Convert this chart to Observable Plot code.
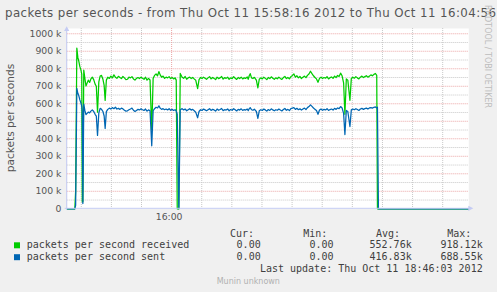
<!DOCTYPE html>
<html><head><meta charset="utf-8">
<script src="https://cdn.jsdelivr.net/npm/d3@7"></script>
<script src="https://cdn.jsdelivr.net/npm/@observablehq/plot@0.6"></script>
<style>
html,body{margin:0;padding:0;background:#f0f0f0;overflow:hidden;}
svg text{font-family:"DejaVu Sans",sans-serif;}
</style></head><body><div id="chart"></div>
<script>
// ---- data ----
const title = "packets per seconds - from Thu Oct 11 15:58:16 2012 to Thu Oct 11 16:04:56";
const yLabel = "packets per seconds";
const startTime = "2012-10-11T15:58:16Z";
const endTime = "2012-10-11T16:04:56Z";
// seconds after 15:58:16
const seconds = [0,7.6,8.4,9.6,10.6,11.6,12.6,13.6,14.5,15.0,15.6,16.5,17.6,18.7,19.8,21,22.3,23.6,25,26.4,27.8,29,30.2,31.5,32.8,34.2,35.6,36.8,37.8,39,40.4,42,43.5,45,46.5,48,49.5,51,52.5,54,55.5,57,58.5,60,61.5,63,64.5,66,67.5,69,70.5,72,73.5,75,76.5,78,79.5,81,82.5,84.2,85.6,87,88.5,90,91.3,92.6,94,95.5,97,98.5,100,101.5,103,104.5,106,107.5,108.6,109.6,111.2,112.6,114.5,116,117.5,119,120.5,122,123.5,125,126.5,128,129.9,131.3,132.8,134.3,135.8,137.3,138.8,140.3,141.8,143.3,144.8,146.3,147.8,149.3,150.8,152.3,153.8,155.3,156.8,158.3,159.8,161.3,162.8,164.3,165.8,167.3,168.8,170.3,171.8,173.3,174.8,176.3,177.8,179.3,180.3,181.3,182.3,183.6,185,186.4,188.4,189.9,191.3,192.8,194.3,195.8,197.3,198.8,200.3,201.8,203.3,204.8,206.3,207.8,209.3,210.8,212.3,213.8,215.3,216.8,218.3,219.8,221.3,222.8,224.3,225.8,227.3,228.8,230.3,231.8,233.3,234.8,236.3,237.8,239.3,240.8,242.3,243.8,245.3,246.8,248.3,249.8,251.3,252.8,254.3,255.8,257.3,258.8,260.3,261.8,263.3,264.8,266.3,267.8,269.3,270.8,272.3,273.8,275.3,276.6,278,279.5,281.6,283,284.5,286,287.5,289,290.5,292,293.5,295,296.5,298,299.5,301,302.5,304,305.5,307,308.3,309.0,310.0,400];
// thousands of packets per second
const received = [0,0,100,918.12,865,842,812,795,770,40,40,792,745,702,718,735,722,742,752,738,712,700,552,725,758,762,740,705,619,735,752,745,758,748,765,752,745,757,750,744,756,748,738,740,752,748,755,742,735,745,750,744,752,746,740,752,735,745,736,450,745,762,770,760,784,765,752,758,745,752,748,755,744,750,742,748,735,0,0,773,752,745,756,740,748,752,744,750,742,735,687,738,750,744,752,746,740,748,755,742,750,745,738,752,744,748,756,741,749,745,752,740,748,744,755,746,739,750,744,752,742,748,745,753,740,760,772,748,744,751,735,691,740,748,742,752,745,738,750,744,754,746,740,748,743,752,745,739,750,756,744,750,742,755,762,770,752,760,748,756,744,752,758,749,762,770,786,772,760,750,742,723,745,752,744,750,746,755,742,749,753,745,758,750,762,756,775,760,720,540,742,735,620,745,752,746,755,748,742,752,758,750,755,760,752,758,765,760,768,773,762,0,0,0];
const sent = [0,0,20,688.55,660,645,622,605,585,560,30,598,562,538,545,552,548,558,565,556,540,530,419,548,574,568,556,530,459,555,568,575,570,578,572,580,570,574,568,575,571,563,558,560,566,570,575,563,556,562,568,565,571,566,562,570,558,565,560,360,560,572,580,576,588,575,568,572,566,570,565,572,563,568,562,566,558,540,0,566,572,565,570,560,566,572,564,568,560,552,520,556,566,562,570,565,560,566,572,562,568,565,558,570,563,567,573,561,566,564,570,560,567,563,572,566,559,568,564,571,562,567,564,570,561,572,578,566,563,569,556,516,560,566,562,570,565,558,567,562,571,565,560,566,563,570,564,559,567,573,563,568,561,572,575,578,568,574,566,571,564,570,575,567,578,584,594,585,576,568,562,540,564,570,563,568,565,572,562,567,570,564,574,568,576,572,584,576,545,424,562,556,470,565,570,566,572,567,562,570,574,568,572,575,570,576,578,575,580,582,576,580,0,0];
const yTicks = [0,100,200,300,400,500,600,700,800,900,1000];
const yMinorTicks = [50,150,250,350,450,550,650,750,850,950];
const xMinorTicks = ["15:58:30","15:59:00","15:59:30","16:00:30","16:01:00","16:01:30","16:02:00","16:02:30","16:03:00","16:03:30","16:04:00","16:04:30"];
const xMajorTicks = ["16:00:00"];
const xTickLabels = ["16:00"];
const seriesNames = ["packets per second received","packets per second sent"];
const seriesColors = ["#00cc00","#0066b3"];
const legendHeaders = ["Cur:","Min:","Avg:","Max:"];
const curValues = ["0.00","0.00"];
const minValues = ["0.00","0.00"];
const avgValues = ["552.76k","416.83k"];
const maxValues = ["918.12k","688.55k"];
const lastUpdate = "Last update: Thu Oct 11 18:46:03 2012";
const watermark = "RRDTOOL / TOBI OETIKER";
const footer = "Munin unknown";

// ---- build ----
const t0 = new Date(startTime).getTime();
const toDate = hms => new Date("2012-10-11T" + hms + "Z");
const data = seconds.map((s, i) => ({time: new Date(t0 + s * 1000), received: received[i], sent: sent[i]}));
const yMax = 1030;

const chart = Plot.plot({
  width: 497, height: 292,
  marginLeft: 66.7, marginRight: 28.7, marginTop: 28, marginBottom: 83.7,
  x: {type: "utc", domain: [new Date(startTime), new Date(endTime)]},
  y: {domain: [0, yMax]},
  style: {background: "#f0f0f0", fontFamily: "DejaVu Sans", fontSize: "9.3px", color: "#555", overflow: "visible"},
  marks: [
    Plot.frame({fill: "white", stroke: null}),
    Plot.ruleY(yMinorTicks, {stroke: "#c8c8c8", strokeDasharray: "1,1"}),
    Plot.ruleX(xMinorTicks.map(toDate), {stroke: "#c8c8c8", strokeDasharray: "1,1"}),
    Plot.ruleY(yTicks.filter(d => d > 0), {stroke: "#eba4a4", strokeDasharray: "1,1"}),
    Plot.ruleX(xMajorTicks.map(toDate), {stroke: "#eba4a4", strokeDasharray: "1,1"}),
    Plot.axisY({ticks: yTicks, tickFormat: d => d === 0 ? "0" : d + " k", tickSize: 0, tickPadding: 5.7, label: null}),
    Plot.axisX({ticks: xMajorTicks.map(toDate), tickFormat: (d, i) => xTickLabels[i], tickSize: 0, tickPadding: 5, label: null, dx: -2.5}),
    Plot.line(data, {x: "time", y: "received", stroke: seriesColors[0], strokeWidth: 1.25}),
    Plot.line(data, {x: "time", y: "sent", stroke: seriesColors[1], strokeWidth: 1.25})
  ]
});
document.getElementById("chart").appendChild(chart);

// ---- decorations ----
const svg = d3.select(chart);
const xs = chart.scale("x"), ys = chart.scale("y");
const ax0 = xs.apply(new Date(startTime)), ax1 = xs.apply(new Date(endTime));
const ay0 = ys.apply(0), ayTop = ys.apply(yMax);
const axisColor = "#c4cbf3";
svg.append("line").attr("x1", ax0).attr("x2", ax0).attr("y1", ay0 + 1).attr("y2", ayTop).attr("stroke", axisColor);
svg.append("line").attr("x1", ax0 - 2).attr("x2", ax1 + 1).attr("y1", ay0).attr("y2", ay0).attr("stroke", axisColor);
svg.append("polygon").attr("points", `${ax0-2.6},${ayTop+3} ${ax0+2.6},${ayTop+3} ${ax0},${ayTop-1.8}`).attr("fill", axisColor);
svg.append("polygon").attr("points", `${ax1},${ay0-2.6} ${ax1},${ay0+2.6} ${ax1+5},${ay0}`).attr("fill", axisColor);

const deco = svg.append("g").attr("text-anchor", "start");
deco.append("text").attr("x", 5).attr("y", 17.3).attr("font-size", 11.8).attr("fill", "#555").attr("text-anchor", "start")
  .attr("textLength", 491).attr("lengthAdjust", "spacing").text(title);
deco.append("text").attr("transform", "translate(13.5,118) rotate(-90)").attr("text-anchor", "middle")
  .attr("font-size", 10.6).attr("fill", "#555").text(yLabel);
deco.append("text").attr("transform", "translate(485,5) rotate(90)").attr("font-size", 8).attr("text-anchor", "start")
  .attr("fill", "#bdbdbd").text(watermark);

const mono = "'DejaVu Sans Mono',monospace";
const lg = deco.append("g").attr("font-size", 10).attr("fill", "#404040").style("font-family", mono);
const headX = [230, 303.3, 376, 447.3];
legendHeaders.forEach((h, i) => lg.append("text").attr("x", headX[i]).attr("y", 236.5).attr("text-anchor", "start").style("font-family", mono).text(h));
const rowY = [248.3, 260.2];
seriesNames.forEach((n, i) => {
  lg.append("rect").attr("x", 14).attr("y", rowY[i] - 6).attr("width", 6).attr("height", 6).attr("fill", seriesColors[i]);
  lg.append("text").attr("x", 26.7).attr("y", rowY[i]).attr("text-anchor", "start").style("font-family", mono).text(n);
  [[curValues, 260.7], [minValues, 333.5], [avgValues, 411.7], [maxValues, 482.7]].forEach(([arr, xe]) =>
    lg.append("text").attr("x", xe).attr("y", rowY[i]).attr("text-anchor", "end").style("font-family", mono).text(arr[i]));
});
lg.append("text").attr("x", 482.7).attr("y", 272).attr("text-anchor", "end").style("font-family", mono).text(lastUpdate);
deco.append("text").attr("x", 216.7).attr("y", 284).attr("font-size", 8).attr("text-anchor", "start").attr("fill", "#b0b0b0").text(footer);
</script></body></html>
